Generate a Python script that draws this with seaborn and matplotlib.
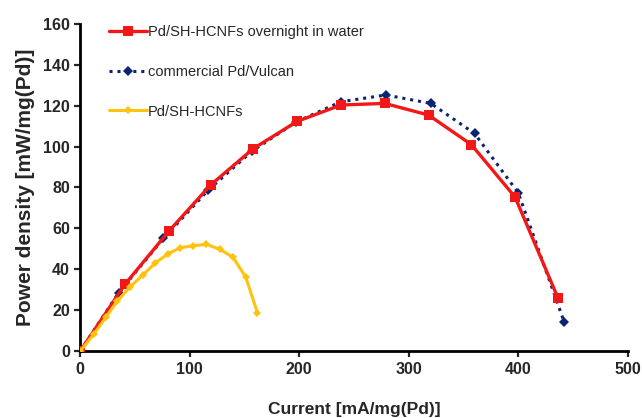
import pandas as pd
import matplotlib
matplotlib.use("Agg")
import matplotlib.pyplot as plt
import seaborn as sns

# values
red_x = [0, 41, 81, 119, 158, 198, 238, 278, 318, 357, 397, 436]
red_y = [0, 32.8, 58.7, 81.2, 99.0, 112.3, 120.3, 121.1, 115.4, 101.0, 75.3, 26.2]

blue_x = [0, 35, 76, 117, 157, 197, 238, 279, 320, 360, 400, 442]
blue_y = [0, 28.5, 55.1, 78.8, 97.8, 112.0, 121.9, 125.2, 121.1, 106.4, 77.3, 14.0]

yellow_x = [0, 12.8, 23.7, 34, 45.6, 57.2, 68.7, 80, 91.2, 102.8, 115.2, 127.5, 139.6, 151.2, 161.8]
yellow_y = [0, 8.6, 16.8, 24.6, 31.5, 37.2, 43.2, 47.5, 50.5, 51.5, 52.2, 49.8, 45.8, 36.0, 18.7]

labels = ["Pd/SH-HCNFs overnight in water", "commercial Pd/Vulcan", "Pd/SH-HCNFs"]
x_ticks = [0, 100, 200, 300, 400, 500]
y_ticks = [0, 20, 40, 60, 80, 100, 120, 140, 160]

sns.set_style("ticks")
plt.rcParams['font.family'] = ['Liberation Sans', 'DejaVu Sans']

fig, ax = plt.subplots(figsize=(6.42, 4.18), dpi=100)
fig.subplots_adjust(left=0.125, right=0.978, top=0.943, bottom=0.160)

df_red = pd.DataFrame({"x": red_x, "y": red_y})
df_blue = pd.DataFrame({"x": blue_x, "y": blue_y})
df_yel = pd.DataFrame({"x": yellow_x, "y": yellow_y})

sns.lineplot(data=df_blue, x="x", y="y", ax=ax, color="#0d2270", linestyle=(0, (1, 1.6)),
             linewidth=2.2, marker="D", markersize=5, markeredgewidth=0,
             label=labels[1], sort=False, zorder=3)
sns.lineplot(data=df_red, x="x", y="y", ax=ax, color="#f21818", linewidth=2.4,
             marker="s", markersize=7, markeredgewidth=0,
             label=labels[0], sort=False, zorder=4)
sns.lineplot(data=df_yel, x="x", y="y", ax=ax, color="#ffc20e", linewidth=2.2,
             marker="D", markersize=4, markeredgewidth=0,
             label=labels[2], sort=False, zorder=5)

ax.set_xlim(0, 500)
ax.set_ylim(0, 160)
ax.set_xticks(x_ticks)
ax.set_yticks(y_ticks)
ax.set_xlabel("Current [mA/mg(Pd)]", fontsize=12.5, fontweight="bold", labelpad=18)
ax.set_ylabel("Power density [mW/mg(Pd)]", fontsize=15, fontweight="bold", labelpad=6)
ax.tick_params(axis="both", labelsize=11.5, width=1.6, length=4, direction="out")
for lbl in ax.get_xticklabels() + ax.get_yticklabels():
    lbl.set_fontweight("bold")
for side in ["left", "bottom"]:
    ax.spines[side].set_linewidth(2)
    ax.spines[side].set_color("black")
sns.despine(ax=ax)

handles, labs = ax.get_legend_handles_labels()
order = [labs.index(l) for l in labels]
ax.legend([handles[i] for i in order], [labs[i] for i in order],
          loc="upper left", bbox_to_anchor=(0.028, 1.035), frameon=False,
          fontsize=10.5, handlelength=2.6, handletextpad=0.1, labelspacing=1.75)

fig.savefig("out.png", dpi=100)
